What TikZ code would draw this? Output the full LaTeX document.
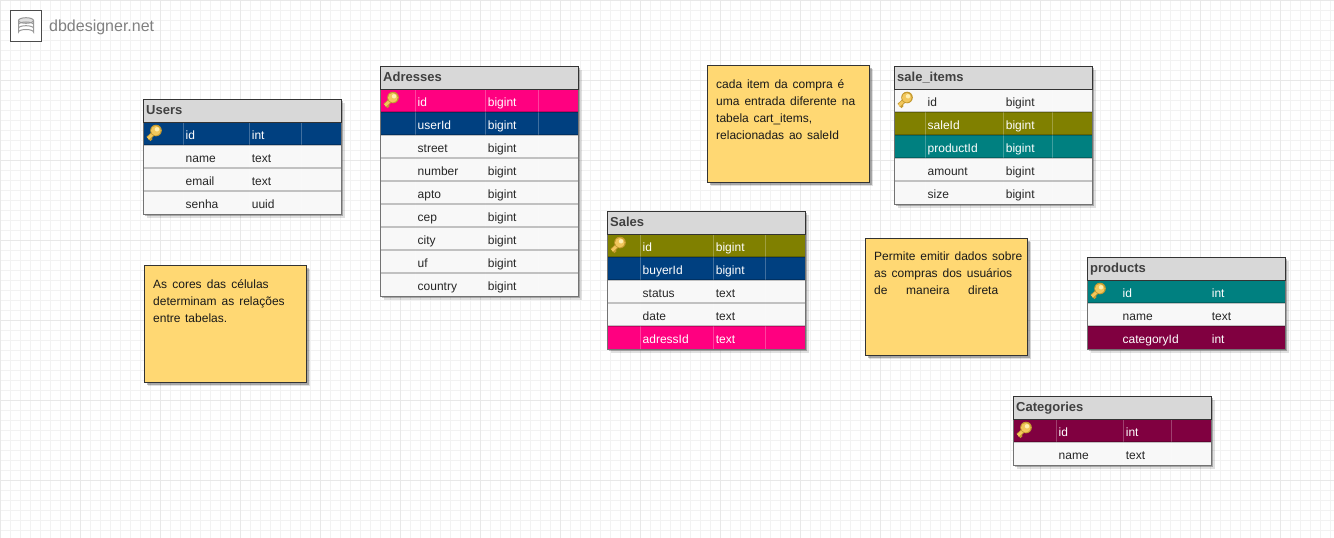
\documentclass[tikz,border=0pt]{standalone}
\usepackage{fontspec}
\setmainfont{Liberation Sans}
\usetikzlibrary{shadows}

\definecolor{navyrow}{HTML}{004080}
\definecolor{pinkrow}{HTML}{FF0080}
\definecolor{olivrow}{HTML}{808000}
\definecolor{tealrow}{HTML}{008080}
\definecolor{winerow}{HTML}{800040}
\definecolor{plainrow}{HTML}{F8F8F8}
\definecolor{headrow}{HTML}{D8D8D8}
\definecolor{notefill}{HTML}{FFD873}
\definecolor{keyedge}{HTML}{C49A30}
\definecolor{keygold}{HTML}{F2C75C}
\definecolor{keylight}{HTML}{FFEFB0}

\tikzset{
    softshadow/.style={drop shadow={shadow xshift=3.5pt, shadow yshift=-3.5pt, opacity=0.12, fill=black}, drop shadow={shadow xshift=2pt, shadow yshift=-2pt, opacity=0.25, fill=black}},
    tablebox/.style={rectangle, draw=black!55, fill=plainrow, line width=1pt, minimum width=198pt, inner sep=0, outer sep=0, anchor=north west, softshadow},
    tablehead/.style={rectangle, draw=black!80, fill=headrow, line width=1pt, minimum width=198pt, minimum height=23pt, inner sep=0, outer sep=0, anchor=north west},
    tabletitle/.style={anchor=base west, inner sep=0, text=black!75, font=\fontsize{13}{15}\selectfont\bfseries},
    tablerow/.style={rectangle, minimum width=198pt, minimum height=23pt, inner sep=0, outer sep=0, anchor=north west},
    tablesep/.style={white, opacity=0.25, line width=0.8pt},
    celltext/.style={anchor=base west, inner sep=0, font=\fontsize{12}{14}\selectfont},
    notebox/.style={rectangle, draw=black!80, fill=notefill, line width=1pt, minimum width=162pt, minimum height=117pt, inner sep=0, outer sep=0, anchor=north west, softshadow},
    notetext/.style={anchor=north west, inner sep=0, text width=150pt, text=black!90, font=\fontsize{12}{17}\selectfont},
    dbkey/.pic={
        \draw[line width=4.4pt, draw=keyedge] (13,9) -- (5,16.5);
        \draw[line width=3pt, draw=keyedge] (6,15.5) -- (8.5,18);
        \draw[line width=2.8pt, draw=keygold] (13,9) -- (5,16.5);
        \fill[keyedge] (13,8.5) circle (5.8);
        \fill[keygold] (12.8,8.7) circle (4.8);
        \fill[keylight] (14,7.3) circle (2.2);
    }
}

% one line of a note, stretched to the given width
\newcommand{\noteline}[2]{\leavevmode\hbox to #1pt{#2}}

% id, x, y, rows, column lines, field/type/row colour/text colour, title
\newcommand{\dbtable}[9]{
    \pgfmathsetmacro{\tableh}{23*(#4+1)}
    \node (#1box) [tablebox, minimum height=\tableh pt] at (#2,#3) {};
    \foreach \fieldname/\fieldtype/\rowfill/\rowtext [count=\i] in {#8} {
        \pgfmathsetmacro{\rowy}{#3+23*\i}
        \node (#1row\i) [tablerow, fill=\rowfill] at (#2,\rowy) {};
        \foreach \sepx in {#5,#6,#7} {
            \draw[tablesep] ([xshift=\sepx pt]#1row\i.north west) -- ([xshift=\sepx pt]#1row\i.south west);
        }
        \draw[black, opacity=0.22, line width=1.5pt] (#1row\i.north west) -- (#1row\i.north east);
        \node (#1name\i) [celltext, text=\rowtext] at ([xshift=#5pt+2.5pt, yshift=-17pt]#1row\i.north west) {\fieldname};
        \node (#1type\i) [celltext, text=\rowtext] at ([xshift=#6pt+2.7pt, yshift=-17pt]#1row\i.north west) {\fieldtype};
    }
    \node (#1head) [tablehead] at (#2,#3) {};
    \node (#1title) [tabletitle] at ([xshift=3pt, yshift=-15pt]#1head.north west) {#9};
    \pic at (#1row1.north west) {dbkey};
    \draw[black!55, line width=1pt] (#1box.north west) rectangle (#1box.south east);
    \draw[black!80, line width=1pt] (#1head.north west) rectangle (#1head.south east);
}

\begin{document}
\begin{tikzpicture}[x=1pt, y=-1pt]

    \useasboundingbox (0,0) rectangle (1334,538);
    \fill[white] (0,0) rectangle (1334,538);

    % Background grid
    \foreach \gridx in {0,10,...,1330} {
        \draw[black!5, line width=0.8pt] (\gridx,0) -- (\gridx,538);
    }
    \foreach \gridy in {0,10,...,530} {
        \draw[black!5, line width=0.8pt] (0,\gridy) -- (1334,\gridy);
    }
    \foreach \gridx in {0,80,...,1330} {
        \draw[black!9, line width=1pt] (\gridx,0) -- (\gridx,538);
    }
    \foreach \gridy in {0,80,...,530} {
        \draw[black!9, line width=1pt] (0,\gridy) -- (1334,\gridy);
    }

    % Logo
    \node (logo) [rectangle, draw=black!70, fill=white, line width=1pt, minimum width=31pt, minimum height=31pt, inner sep=0, outer sep=0, anchor=north west] at (10.5,10.5) {};
    \draw[black!40, line width=1pt] (18.5,20.5) -- (18.5,32) arc[x radius=7.5, y radius=2.5, start angle=180, end angle=360] -- (33.5,20.5);
    \draw[black!40, fill=black!12, line width=1pt] (26,20.5) ellipse (7.5 and 2.8);
    \draw[black!40, line width=1pt] (18.5,24.5) arc[x radius=7.5, y radius=2.5, start angle=180, end angle=360];
    \draw[black!40, line width=1pt] (18.5,28.2) arc[x radius=7.5, y radius=2.5, start angle=180, end angle=360];
    \node (logotext) [anchor=base west, inner sep=0, text=black!50, font=\fontsize{16}{18}\selectfont] at (49,31) {dbdesigner.net};

    % Tables
    \dbtable{users}{143}{99}{4}{40}{106}{158}{
        id/int/navyrow/white, name/text/plainrow/black!85, email/text/plainrow/black!85, senha/uuid/plainrow/black!85}{Users}
    \dbtable{adresses}{380}{66}{9}{35}{105}{158}{
        id/bigint/pinkrow/white, userId/bigint/navyrow/white, street/bigint/plainrow/black!85, number/bigint/plainrow/black!85, apto/bigint/plainrow/black!85, cep/bigint/plainrow/black!85, city/bigint/plainrow/black!85, uf/bigint/plainrow/black!85, country/bigint/plainrow/black!85}{Adresses}
    \dbtable{sales}{607}{211}{5}{33}{106}{158}{
        id/bigint/olivrow/white, buyerId/bigint/navyrow/white, status/text/plainrow/black!85, date/text/plainrow/black!85, adressId/text/pinkrow/white}{Sales}
    \dbtable{saleitems}{894}{66}{5}{31}{109}{158}{
        id/bigint/plainrow/black!85, saleId/bigint/olivrow/white, productId/bigint/tealrow/white, amount/bigint/plainrow/black!85, size/bigint/plainrow/black!85}{sale\_items}
    \begin{scope}[tablesep/.style={opacity=0}]
    \dbtable{products}{1087}{257}{3}{33}{122}{174}{
        id/int/tealrow/white, name/text/plainrow/black!85, categoryId/int/winerow/white}{products}
    \end{scope}
    \dbtable{categories}{1013}{396}{2}{43}{110}{158}{
        id/int/winerow/white, name/text/plainrow/black!85}{Categories}

    % Notes
    \node (notecolors) [notebox] at (144.5,265.5) {};
    \node (notecolorstext) [notetext] at ([xshift=8.5pt, yshift=-13.5pt]notecolors.north west) {\noteline{115.5}{As\hfil cores\hfil das\hfil células}\\ \noteline{131.5}{determinam\hfil as\hfil relações}\\ \noteline{74}{entre\hfil tabelas.}};
    \node (noteitems) [notebox] at (707.5,65.5) {};
    \node (noteitemstext) [notetext] at ([xshift=8.5pt, yshift=-13.5pt]noteitems.north west) {\noteline{128}{cada\hfil item\hfil da\hfil compra\hfil é}\\ \noteline{139}{uma\hfil entrada\hfil diferente\hfil na}\\ \noteline{96}{tabela\hfil cart\_items,}\\ \noteline{123}{relacionadas\hfil ao\hfil saleId}};
    \node (notesales) [notebox] at (865.5,238.5) {};
    \node (notesalestext) [notetext] at ([xshift=8.5pt, yshift=-13.5pt]notesales.north west) {\noteline{148}{Permite\hfil emitir\hfil dados\hfil sobre}\\ \noteline{138}{as\hfil compras\hfil dos\hfil usuários}\\ \noteline{124}{de\hfil maneira\hfil direta}};

\end{tikzpicture}
\end{document}
